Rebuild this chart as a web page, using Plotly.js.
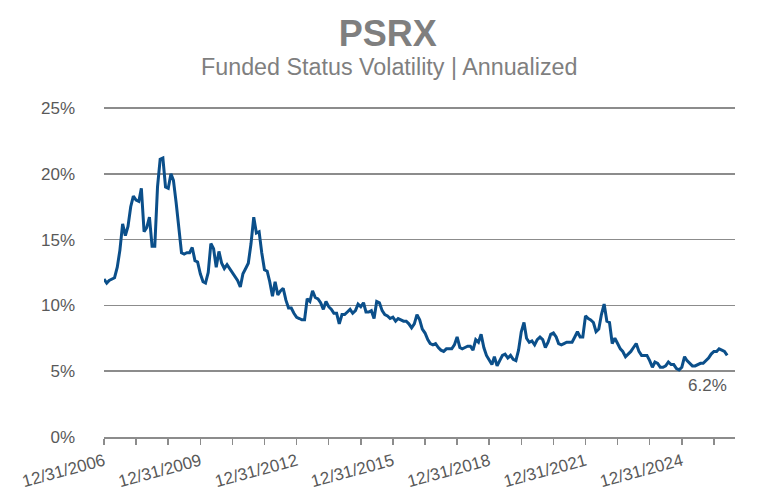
<!DOCTYPE html>
<html>
<head>
<meta charset="utf-8">
<script src="https://cdn.plot.ly/plotly-3.0.1.min.js"></script>
<style>
  html, body { margin: 0; padding: 0; background: #fff; }
  #chart { width: 768px; height: 501px; }
</style>
</head>
<body>
<div id="chart"></div>
<script>
// monthly funded status volatility (%), month-ends from 12/31/2006
const firstMonth = [2006, 12]
const volatility = [
    12.0, 11.7, 11.9, 12.0, 12.1, 12.9, 14.2, 16.2, 15.3, 16.0,
    17.5, 18.3, 18.0, 17.9, 18.9, 15.6, 15.9, 16.7, 14.5, 14.5,
    19.0, 21.1, 21.2, 19.0, 18.9, 20.0, 19.5, 17.8, 16.0, 14.0,
    13.9, 14.0, 14.0, 14.4, 13.4, 13.3, 12.4, 11.8, 11.7, 12.5,
    14.7, 14.3, 12.9, 14.1, 13.2, 12.8, 13.1, 12.8, 12.5, 12.1,
    11.9, 11.4, 12.4, 12.8, 13.2, 14.7, 16.7, 15.5, 15.6, 14.0,
    12.7, 12.6, 11.8, 10.7, 11.8, 10.8, 11.1, 11.3, 10.4, 9.8,
    9.8, 9.4, 9.1, 9.0, 8.9, 8.9, 10.5, 10.3, 11.1, 10.6,
    10.5, 10.2, 9.7, 10.3, 9.9, 9.7, 9.4, 9.4, 8.6, 9.3,
    9.3, 9.5, 9.7, 9.4, 9.6, 10.1, 9.9, 10.2, 9.5, 9.5,
    9.6, 9.0, 10.3, 10.2, 9.6, 9.3, 9.2, 9.0, 9.1, 8.8,
    9.0, 8.9, 8.8, 8.8, 8.6, 8.3, 8.6, 9.3, 8.9, 8.2,
    7.9, 7.4, 7.1, 7.0, 7.1, 6.8, 6.6, 6.5, 6.7, 6.7,
    6.7, 7.0, 7.6, 6.8, 6.7, 6.8, 6.9, 6.9, 6.6, 7.4,
    7.2, 7.8, 6.8, 6.2, 5.9, 5.5, 6.1, 5.4, 5.8, 6.2,
    6.3, 6.0, 6.2, 5.9, 5.8, 6.6, 8.0, 8.7, 7.5, 7.2,
    7.3, 7.0, 7.4, 7.6, 7.4, 6.8, 7.2, 7.8, 7.9, 7.6,
    7.1, 7.0, 7.1, 7.2, 7.2, 7.2, 7.6, 8.0, 7.6, 7.6,
    9.2, 9.0, 8.9, 8.7, 8.0, 8.2, 9.3, 10.1, 8.8, 8.7,
    7.1, 7.5, 7.1, 6.7, 6.5, 6.1, 6.3, 6.5, 6.8, 7.1,
    6.5, 6.2, 6.2, 6.2, 5.8, 5.3, 5.7, 5.6, 5.3, 5.3,
    5.4, 5.7, 5.5, 5.5, 5.2, 5.1, 5.3, 6.1, 5.8, 5.6,
    5.4, 5.4, 5.5, 5.6, 5.6, 5.8, 6.0, 6.3, 6.5, 6.5,
    6.7, 6.6, 6.5, 6.2
]
const tickYears = [2006, 2007, 2008, 2009, 2010, 2011, 2012, 2013, 2014, 2015,
    2016, 2017, 2018, 2019, 2020, 2021, 2022, 2023, 2024, 2025]
const labelYears = [2006, 2009, 2012, 2015, 2018, 2021, 2024]
const yTicks = [0, 5, 10, 15, 20, 25]
const lastLabel = '6.2%'

const monthEnd = (i) => {
    const d = new Date(Date.UTC(firstMonth[0], firstMonth[1] + i, 0))
    return d.toISOString().slice(0, 10)
}
const dates = volatility.map((v, i) => monthEnd(i))

const grey = '#595959'
const font = 'Liberation Sans, Arial, sans-serif'

const data = [{
    x: dates,
    y: volatility,
    type: 'scatter',
    mode: 'lines',
    line: { color: '#0b4f8a', width: 3 },
    hoverinfo: 'skip'
}]

const layout = {
    width: 768,
    height: 501,
    margin: { l: 104, r: 33, t: 106, b: 64 },
    paper_bgcolor: '#fff',
    plot_bgcolor: '#fff',
    showlegend: false,
    font: { family: font, color: grey, size: 17 },
    title: {
        text: '<b>PSRX</b>',
        font: { family: font, size: 36, color: '#7f7f7f' },
        x: 0.505, xanchor: 'center',
        y: 1 - 33 / 501, yanchor: 'middle'
    },
    xaxis: {
        type: 'date',
        range: ['2006-12-31', '2026-08-28'],
        tickvals: tickYears.map(y => y + '-12-31'),
        ticktext: tickYears.map(y => labelYears.includes(y) ? '12/31/' + y : ''),
        tickangle: -15,
        ticks: 'outside',
        ticklen: 6,
        tickwidth: 1.5,
        tickcolor: '#8c8c8c',
        showline: true,
        linecolor: '#8c8c8c',
        linewidth: 2,
        showgrid: false,
        zeroline: false,
        tickfont: { family: font, size: 17, color: grey },
        fixedrange: true
    },
    yaxis: {
        range: [0, 25.15],
        tickvals: yTicks,
        ticktext: yTicks.map(v => v + '%'),
        showgrid: true,
        gridcolor: '#8c8c8c',
        gridwidth: 1.5,
        zeroline: false,
        showline: false,
        ticks: '',
        ticklabelstandoff: 28,
        tickfont: { family: font, size: 17, color: grey },
        fixedrange: true
    },
    annotations: [
        {
            text: 'Funded Status Volatility | Annualized',
            xref: 'paper', yref: 'paper',
            x: 0.452, y: (437 - 67) / 331,
            xanchor: 'center', yanchor: 'middle',
            showarrow: false,
            font: { family: font, size: 23.3, color: '#7f7f7f' }
        },
        {
            text: lastLabel,
            x: dates[dates.length - 1],
            y: volatility[volatility.length - 1],
            xanchor: 'right', yanchor: 'top',
            yshift: -19, xshift: 2,
            showarrow: false,
            font: { family: font, size: 17, color: grey }
        }
    ]
}

const config = { responsive: false, displayModeBar: false, staticPlot: true }

Plotly.newPlot(document.getElementById('chart'), data, layout, config)
</script>
</body>
</html>
